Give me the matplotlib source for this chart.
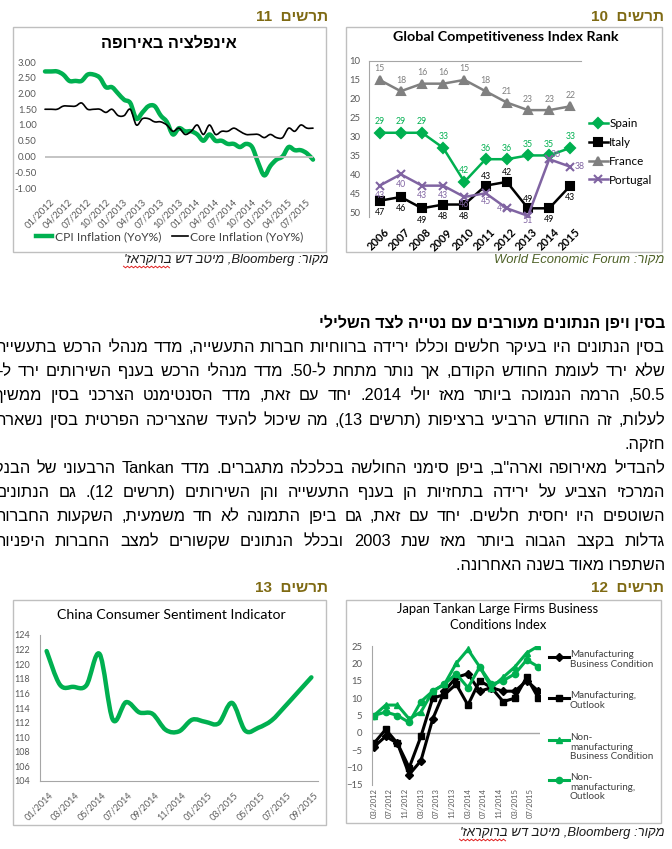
import re
import numpy as np
import matplotlib
matplotlib.use("Agg")
import matplotlib.pyplot as plt
import matplotlib.transforms as mtransforms
from matplotlib.lines import Line2D
from matplotlib.patches import Rectangle, PathPatch
from matplotlib.path import Path

plt.rcParams["font.family"] = ["Lato", "DejaVu Sans"]

W, H = 672, 849
HEB = ["Liberation Sans", "DejaVu Sans"]
GREEN = "#00b050"
OLIVE = "#7f6a13"
TICK = "#595959"
AXIS = "#a6a6a6"

# --- chart 11: euro area inflation, monthly from 01/2012
euro_ticks = ["01/2012", "04/2012", "07/2012", "10/2012", "01/2013", "04/2013", "07/2013",
              "10/2013", "01/2014", "04/2014", "07/2014", "10/2014", "01/2015", "04/2015", "07/2015"]
cpi = [2.7, 2.7, 2.7, 2.6, 2.4, 2.4, 2.4, 2.6, 2.6, 2.5, 2.2, 2.2,
       2.0, 1.8, 1.7, 1.2, 1.4, 1.6, 1.6, 1.3, 1.1, 0.7, 0.9, 0.8,
       0.8, 0.7, 0.5, 0.7, 0.5, 0.5, 0.4, 0.4, 0.3, 0.4, 0.3, -0.2,
       -0.6, -0.3, -0.1, 0.0, 0.3, 0.2, 0.2, 0.1, -0.1]
core = [1.5, 1.5, 1.5, 1.6, 1.6, 1.6, 1.7, 1.5, 1.5, 1.5, 1.4, 1.5,
        1.3, 1.3, 1.5, 1.0, 1.2, 1.2, 1.1, 1.1, 1.0, 0.8, 0.9, 0.7,
        0.8, 1.0, 0.7, 1.0, 0.7, 0.8, 0.8, 0.9, 0.8, 0.7, 0.7, 0.7,
        0.6, 0.7, 0.6, 0.6, 0.9, 0.8, 1.0, 0.9, 0.9]

# --- chart 10: global competitiveness rank
gci_years = ["2006", "2007", "2008", "2009", "2010", "2011", "2012", "2013", "2014", "2015"]
spain = [29, 29, 29, 33, 42, 36, 36, 35, 35, 33]
italy = [47, 46, 49, 48, 48, 43, 42, 49, 49, 43]
france = [15, 18, 16, 16, 15, 18, 21, 23, 23, 22]
portugal = [43, 40, 43, 43, 46, 45, 49, 51, 36, 38]

# --- chart 13: china consumer sentiment, monthly from 01/2014
china_ticks = ["01/2014", "03/2014", "05/2014", "07/2014", "09/2014", "11/2014",
               "01/2015", "03/2015", "05/2015", "07/2015", "09/2015"]
china = [121.8, 117.2, 116.9, 117.1, 121.4, 112.4, 114.8, 113.4, 113.2, 111.0, 110.8,
         112.4, 112.1, 111.9, 114.7, 110.9, 111.3, 112.3, 114.2, 116.2, 118.2]

# --- chart 12: japan tankan, quarterly
tankan_dates = ["03/2012", "06/2012", "09/2012", "12/2012", "03/2013", "06/2013", "09/2013", "12/2013",
                "03/2014", "06/2014", "09/2014", "12/2014", "03/2015", "06/2015", "09/2015"]
tankan_ticks = ["03/2012", "07/2012", "11/2012", "03/2013", "07/2013", "11/2013",
                "03/2014", "07/2014", "11/2014", "03/2015", "07/2015"]
mfg_bc = [-4, -1, -3, -12, -8, 4, 12, 16, 17, 12, 13, 12, 12, 15, 12]
mfg_out = [-3, 1, -3, -10, -1, 10, 11, 14, 8, 15, 13, 9, 10, 16, 10]
nonmfg_bc = [5, 8, 8, 4, 6, 12, 14, 20, 24, 19, 13, 16, 19, 23, 25]
nonmfg_out = [5, 6, 5, 3, 9, 12, 14, 17, 13, 19, 14, 15, 17, 21, 19]

# --- text
heading = "בסין ויפן הנתונים מעורבים עם נטייה לצד השלילי"
body = [
    "בסין הנתונים היו בעיקר חלשים וכללו ירידה ברווחיות חברות התעשייה, מדד מנהלי הרכש בתעשייה",
    "שלא ירד לעומת החודש הקודם, אך נותר מתחת ל-50. מדד מנהלי הרכש בענף השירותים ירד ל-",
    "50.5, הרמה הנמוכה ביותר מאז יולי 2014. יחד עם זאת, מדד הסנטימנט הצרכני בסין ממשיך",
    "לעלות, זה החודש הרביעי ברציפות (תרשים 13), מה שיכול להעיד שהצריכה הפרטית בסין נשארה",
    "חזקה.",
    "להבדיל מאירופה וארה\"ב, ביפן סימני החולשה בכלכלה מתגברים. מדד Tankan הרבעוני של הבנק",
    "המרכזי הצביע על ירידה בתחזיות הן בענף התעשייה והן השירותים (תרשים 12). גם הנתונים",
    "השוטפים היו יחסית חלשים. יחד עם זאת, גם ביפן התמונה לא חד משמעית, השקעות החברות",
    "גדלות בקצב הגבוה ביותר מאז שנת 2003 ובכלל הנתונים שקשורים למצב החברות היפניות",
    "השתפרו מאוד בשנה האחרונה.",
]
# left edge of justified lines (pixels, cut by the page edge); None = last line of paragraph
body_left = [-4, -3, -5, -4, None, -6, -4, -6, -6, None]
src_bb = "מקור: Bloomberg, מיטב דש ברוקראז'"
src_wef = "מקור: World Economic Forum"

MIRROR = str.maketrans("()", ")(")
LTR = re.compile(r"[A-Za-z0-9](?:[A-Za-z0-9.,:%/ ]*[A-Za-z0-9])?")


def vis(s):
    # crude bidi: reverse, keep latin/number runs left to right
    r = s[::-1].translate(MIRROR)
    return LTR.sub(lambda m: m.group(0)[::-1], r)


fig = plt.figure(figsize=(W / 100, H / 100), dpi=100)
renderer = fig.canvas.get_renderer()


def width(s, **kw):
    t = fig.text(0, 0, s, **kw)
    w = t.get_window_extent(renderer).width
    t.remove()
    return w


def fit(s, target, **kw):
    # font size that gives the text the width measured on the reference
    return 10 * target / width(s, size=10, **kw)


def px_ax(l, t, r, b):
    ax = fig.add_axes([l / W, 1 - b / H, (r - l) / W, (b - t) / H])
    ax.set_facecolor("none")
    return ax


def ftext(x, y, s, **kw):
    return fig.text(x / W, 1 - y / H, s, **kw)


def box(l, t, r, b):
    fig.add_artist(Rectangle((l / W, 1 - b / H), (r - l) / W, (b - t) / H,
                             transform=fig.transFigure, fill=False, ec="#bfbfbf", lw=1.0))


def shift(labels, dx, dy=0):
    off = mtransforms.ScaledTranslation(dx / 100, -dy / 100, fig.dpi_scale_trans)
    for t in labels:
        t.set_transform(t.get_transform() + off)


def smooth(ax, x, y, **kw):
    # excel-like smoothed line (bezier through the points)
    x = np.asarray(x, float)
    y = np.asarray(y, float)
    n = len(x)
    verts = [(x[0], y[0])]
    codes = [Path.MOVETO]
    for i in range(n - 1):
        i0, i3 = max(i - 1, 0), min(i + 2, n - 1)
        c1 = (x[i] + (x[i + 1] - x[i0]) / 6, y[i] + (y[i + 1] - y[i0]) / 6)
        c2 = (x[i + 1] - (x[i3] - x[i]) / 6, y[i + 1] - (y[i3] - y[i]) / 6)
        verts += [c1, c2, (x[i + 1], y[i + 1])]
        codes += [Path.CURVE4] * 3
    ax.add_patch(PathPatch(Path(verts, codes), fill=False, clip_on=False,
                           capstyle="round", joinstyle="round", **kw))


HDR = dict(family=HEB, weight="bold", color=OLIVE)
HDR_SIZE = fit(vis("תרשים  11"), 72, family=HEB, weight="bold")
SRC = dict(family=HEB, style="italic")
SRC_SIZE = fit(vis(src_bb), 205, **SRC)


def header(xr, y, num):
    ftext(xr, y, vis("תרשים  " + num), ha="right", va="center", size=HDR_SIZE, **HDR)


def source(xr, y, s, color="#1a1a1a", squiggle=False):
    ftext(xr, y, vis(s), ha="right", va="center", size=SRC_SIZE, color=color, **SRC)
    if squiggle:
        # red spell-check underline under the last hebrew word
        x0 = xr - width(vis(s), size=SRC_SIZE, **SRC)
        wl = width(vis(s.split(" ")[-1]), size=SRC_SIZE, **SRC)
        zx = np.arange(x0, x0 + wl, 2.0)
        zy = y + 7 + np.where(np.arange(len(zx)) % 2 == 0, -0.8, 0.8)
        fig.add_artist(Line2D(zx / W, 1 - zy / H, transform=fig.transFigure,
                              color="#e02020", lw=0.7))


# ================= chart 11 =================
box(13, 27, 326, 252)
header(328, 17, "11")
source(328, 260, src_bb, squiggle=True)
t11 = vis("אינפלציה באירופה")
ftext(169, 43, t11, ha="center", va="center", family=HEB, weight="bold",
      size=fit(t11, 137, family=HEB, weight="bold"))

ax = px_ax(45, 62, 313, 188)
ax.axhline(0, color="#bfbfbf", lw=1.3)
smooth(ax, np.arange(len(cpi)), cpi, color=GREEN, lw=3.2)
smooth(ax, np.arange(len(core)), core, color="black", lw=1.2)
ax.set_xlim(0, 44)
ax.set_ylim(-1, 3)
yt = np.arange(-1, 3.01, 0.5)
ax.set_yticks(yt, [f"{v:.2f}" for v in yt])
ax.set_xticks(np.arange(0, 3 * len(euro_ticks), 3), euro_ticks, rotation=45,
              ha="right", va="top", rotation_mode="anchor")
ax.tick_params(length=0, labelsize=6.8, labelcolor=TICK)
ax.tick_params(axis="y", pad=6)
ax.tick_params(axis="x", pad=7)
shift(ax.get_xticklabels(), 5)
for s in ax.spines.values():
    s.set_visible(False)
leg_size = fit("CPI Inflation (YoY%)", 106)
ax.legend([Line2D([], [], color=GREEN, lw=3.2), Line2D([], [], color="black", lw=1.2)],
          ["CPI Inflation (YoY%)", "Core Inflation (YoY%)"], loc="center",
          bbox_to_anchor=(170 / W, 1 - 237 / H), bbox_transform=fig.transFigure,
          ncol=2, frameon=False, fontsize=leg_size,
          handlelength=16 / (leg_size * 1.389), handletextpad=0.2,
          columnspacing=0.9, labelcolor="#404040")

# ================= chart 10 =================
box(346, 27, 662, 252)
header(664, 17, "10")
source(664, 260, src_wef, color="#4f6228")
t10 = "Global Competitiveness Index Rank"
ftext(506, 37, t10, ha="center", va="center", weight="bold", size=fit(t10, 226, weight="bold"))

ax2 = px_ax(369, 61, 581, 217)
xs = np.arange(len(gci_years))
PURPLE = "#8064a2"
series = [
    ("Spain", spain, GREEN, "D", 5, [(0, 11)] * 10),
    ("Italy", italy, "black", "s", 5.5,
     [(0, -12)] * 5 + [(0, 9), (0, 9), (0, 9), (0, -11), (0, -12)]),
    ("France", france, "#808080", "^", 6, [(0, 11)] * 10),
    ("Portugal", portugal, PURPLE, "x", 6,
     [(0, -10)] * 4 + [(0, -8), (0, -8), (-5, 0), (0, -5), (7, 5), (9, 0)]),
]
for name, vals, col, mk, ms, offs in series:
    ax2.plot(xs, vals, color=col, lw=1.8, marker=mk, ms=ms, mew=1.5, label=name)
    for xi, v, (dx, dy) in zip(xs, vals, offs):
        ax2.annotate(str(v), (xi, v), xytext=(dx, dy), textcoords="offset pixels",
                     ha="center", va="center", fontsize=6.3, color=col)
ax2.set_xlim(-0.5, 9.5)
ax2.set_ylim(51.3, 10)
ax2.set_yticks(range(10, 51, 5))
ax2.set_xticks(xs, gci_years, rotation=45, ha="right", va="top",
               rotation_mode="anchor", weight="bold", color="black")
ax2.tick_params(length=0, labelsize=6.8)
ax2.tick_params(axis="y", labelcolor=TICK, pad=6)
ax2.tick_params(axis="x", labelsize=8, pad=7)
shift(ax2.get_xticklabels(), 4)
for side in ("bottom", "right"):
    ax2.spines[side].set_visible(False)
for side in ("top", "left"):
    ax2.spines[side].set_color(AXIS)
gl_size = fit("Portugal", 43)
ax2.legend(loc="center left", bbox_to_anchor=(589 / W, 1 - 152 / H),
           bbox_transform=fig.transFigure, frameon=False, fontsize=gl_size,
           handlelength=19 / (gl_size * 1.389), handletextpad=0.1,
           labelspacing=(19.3 - gl_size * 1.389) / (gl_size * 1.389),
           borderpad=0, borderaxespad=0)

# ================= chart 13 =================
box(13, 600, 326, 825)
header(328, 588, "13")
t13 = "China Consumer Sentiment Indicator"
ftext(171, 615, t13, ha="center", va="center", size=fit(t13, 229))

ax3 = px_ax(40, 635, 318, 781)
smooth(ax3, np.arange(len(china)), china, color=GREEN, lw=3.2)
ax3.set_xlim(-0.5, 20.5)
ax3.set_ylim(104, 124)
ax3.set_yticks(range(104, 125, 2))
ax3.set_xticks(np.arange(0, 2 * len(china_ticks), 2), china_ticks, rotation=45,
               ha="right", va="top", rotation_mode="anchor")
ax3.tick_params(length=0, labelsize=6.5, labelcolor=TICK)
ax3.tick_params(axis="y", pad=7)
ax3.tick_params(axis="x", pad=7)
shift(ax3.get_xticklabels(), 2)
for side in ("top", "right"):
    ax3.spines[side].set_visible(False)
for side in ("bottom", "left"):
    ax3.spines[side].set_color(AXIS)

# ================= chart 12 =================
box(346, 600, 661, 823)
header(664, 588, "12")
source(664, 833, src_bb, squiggle=True)
t12 = "Japan Tankan Large Firms Business"
t12_size = fit(t12, 201)
ftext(498, 609, t12, ha="center", va="center", size=t12_size)
ftext(498, 625, "Conditions Index", ha="center", va="center", size=t12_size)


def month_idx(d):
    m, y = d.split("/")
    return (int(y) - 2012) * 12 + int(m) - 1


ax4 = px_ax(372, 646, 540, 785)
tx = [month_idx(d) for d in tankan_dates]
ax4.axhline(0, color=AXIS, lw=1)
tankan = [
    ("Manufacturing\nBusiness Condition", mfg_bc, "black", "D", 4.5, 657),
    ("Manufacturing,\nOutlook", mfg_out, "black", "s", 4.5, 698),
    ("Non-\nmanufacturing\nBusiness Condition", nonmfg_bc, GREEN, "^", 5, 740),
    ("Non-\nmanufacturing,\nOutlook", nonmfg_out, GREEN, "o", 4.5, 780),
]
jl_size = fit("Business Condition", 83)
for lab, vals, col, mk, ms, ly in tankan:
    ax4.plot(tx, vals, color=col, lw=2.2, marker=mk, ms=ms)
    fig.add_artist(Line2D([549 / W, 569 / W], [1 - ly / H] * 2, transform=fig.transFigure,
                          color=col, lw=2.2))
    fig.add_artist(Line2D([559 / W], [1 - ly / H], transform=fig.transFigure,
                          color=col, marker=mk, ms=ms))
    ftext(570, ly - 7, lab, ha="left", va="top", size=jl_size, color="#404040",
          linespacing=1.1)
ax4.set_xlim(1.5, 44.4)
ax4.set_ylim(-15, 25)
ax4.set_yticks(range(-15, 26, 5))
ax4.set_xticks([month_idx(d) for d in tankan_ticks], tankan_ticks, rotation=90,
               ha="center", va="top")
ax4.tick_params(length=0, labelcolor=TICK)
ax4.tick_params(axis="y", labelsize=6.8, pad=7)
ax4.tick_params(axis="x", labelsize=5.5, pad=2)
for side in ("top", "right", "bottom"):
    ax4.spines[side].set_visible(False)
ax4.spines["left"].set_color(AXIS)

# ================= text block =================
XR = 665
body_size = fit(vis(body[-1]), 208, family=HEB)
BODY = dict(family=HEB, size=body_size, color="black")
head_size = fit(vis(heading), 345, family=HEB, weight="bold")
space_w = width("א א", **BODY) - width("אא", **BODY)

ftext(XR, 328, vis(heading), ha="right", va="baseline", family=HEB, size=head_size,
      weight="bold", color="black")
for i, (line, left) in enumerate(zip(body, body_left)):
    yb = 352 + 24.2 * i
    if left is None:
        ftext(XR, yb, vis(line), ha="right", va="baseline", **BODY)
        continue
    words = [vis(w) for w in line.split(" ")]
    ws = [width(w, **BODY) for w in words]
    gap = max((XR - left - sum(ws)) / (len(words) - 1), space_w)
    x = XR
    for w, wd in zip(words, ws):
        ftext(x, yb, w, ha="right", va="baseline", **BODY)
        x -= wd + gap

fig.savefig("out.png", dpi=100)
